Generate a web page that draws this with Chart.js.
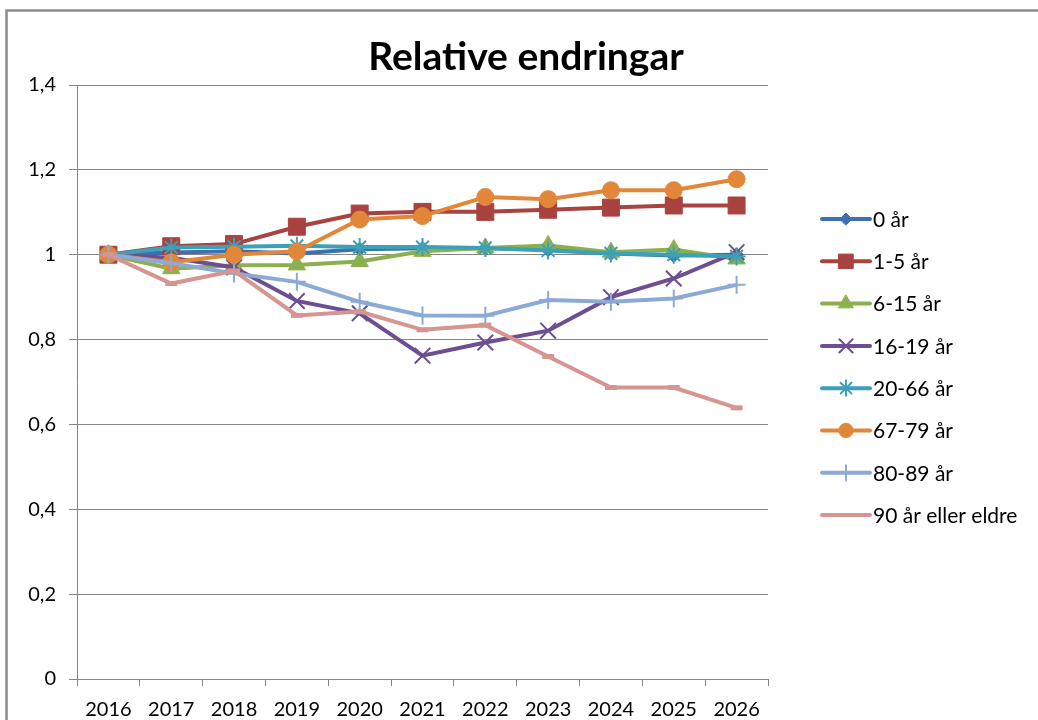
<!DOCTYPE html>
<html>
<head>
<meta charset="utf-8">
<script src="https://cdn.jsdelivr.net/npm/chart.js@4/dist/chart.umd.min.js"></script>
<style>
html,body{margin:0;padding:0;background:#fff;}
#wrap{width:1038px;height:720px;position:relative;}
</style>
</head>
<body>
<div id="wrap"><canvas id="c" width="1038" height="720"></canvas></div>
<script>
const years = ['2016','2017','2018','2019','2020','2021','2022','2023','2024','2025','2026'];
const seriesNames = ['0 år','1-5 år','6-15 år','16-19 år','20-66 år','67-79 år','80-89 år','90 år eller eldre'];
const age0    = [1, 1.005, 1.008, 1.003, 1.013, 1.015, 1.015, 1.012, 1.003, 0.998, 1.0];
const age1_5  = [1, 1.020, 1.025, 1.066, 1.097, 1.101, 1.101, 1.106, 1.111, 1.116, 1.116];
const age6_15 = [1, 0.967, 0.975, 0.976, 0.984, 1.008, 1.016, 1.022, 1.006, 1.012, 0.990];
const age16_19= [1, 0.993, 0.970, 0.891, 0.862, 0.762, 0.793, 0.821, 0.900, 0.944, 1.006];
const age20_66= [1, 1.017, 1.019, 1.021, 1.018, 1.018, 1.016, 1.010, 1.003, 1.000, 0.996];
const age67_79= [1, 0.982, 1.000, 1.008, 1.083, 1.091, 1.136, 1.131, 1.152, 1.152, 1.178];
const age80_89= [1, 0.980, 0.956, 0.936, 0.889, 0.857, 0.856, 0.893, 0.889, 0.897, 0.929];
const age90   = [1, 0.932, 0.962, 0.857, 0.866, 0.823, 0.834, 0.760, 0.687, 0.687, 0.639];
const yTicks = [0, 0.2, 0.4, 0.6, 0.8, 1, 1.2, 1.4];
const chartTitle = 'Relative endringar';

const seriesValues = [age0, age1_5, age6_15, age16_19, age20_66, age67_79, age80_89, age90];
const colors = ['#3E6FAE','#A9433F','#8DB04E','#6C4E93','#3DA0B9','#E2873A','#8CAAD6','#D69591'];
const styles = [
  {ps:'rectRot', r:7, bw:1, fill:true},
  {ps:'rect', r:12, bw:1, fill:true},
  {ps:'triangle', r:10, bw:1, fill:true},
  {ps:'crossRot', r:11, bw:2, fill:false},
  {ps:'star', r:9, bw:2, fill:false},
  {ps:'circle', r:8.5, bw:1, fill:true},
  {ps:'cross', r:9, bw:2, fill:false},
  {ps:'line', r:6, bw:5, fill:false}
];
const FONT = 'Lato, "Open Sans", sans-serif';
const N = seriesNames.length;

const datasets = seriesNames.map((name, i) => ({
  label: name,
  data: seriesValues[i],
  borderColor: colors[i],
  backgroundColor: colors[i],
  borderWidth: 4,
  tension: 0,
  pointStyle: styles[i].ps,
  pointRadius: styles[i].r,
  pointHoverRadius: styles[i].r,
  pointBorderWidth: styles[i].bw,
  pointBackgroundColor: colors[i],
  pointBorderColor: colors[i],
  order: N - 1 - i
}));

const framePlugin = {
  id: 'frame',
  beforeDraw(chart) {
    const ctx = chart.ctx;
    ctx.save();
    ctx.fillStyle = '#fff';
    ctx.fillRect(0, 0, chart.width, chart.height);
    ctx.strokeStyle = '#8c8c8c';
    ctx.lineWidth = 2.5;
    ctx.strokeRect(6.5, 10.5, chart.width + 20, chart.height + 20);
    ctx.restore();
  },
  afterDraw(chart) {
    const ctx = chart.ctx;
    ctx.save();
    ctx.fillStyle = '#000';
    ctx.font = 'bold 39px ' + FONT;
    ctx.textAlign = 'center';
    ctx.textBaseline = 'middle';
    ctx.fillText(chartTitle, 526, 57);
    ctx.restore();
  }
};

const legendPlugin = {
  id: 'customLegend',
  afterDraw(chart) {
    const ctx = chart.ctx;
    ctx.save();
    const x0 = 822, x1 = 870, tx = 873, y0 = 219, dy = 42.3;
    chart.data.datasets.forEach((ds, i) => {
      const y = y0 + i * dy;
      ctx.strokeStyle = ds.borderColor;
      ctx.lineWidth = 4;
      ctx.lineCap = 'round';
      ctx.beginPath();
      ctx.moveTo(x0, y);
      ctx.lineTo(x1, y);
      ctx.stroke();
      const st = styles[i];
      if (st.ps !== 'line') {
        ctx.fillStyle = ds.borderColor;
        ctx.strokeStyle = ds.borderColor;
        ctx.lineWidth = st.bw;
        Chart.helpers.drawPoint(ctx, {pointStyle: st.ps, radius: st.r * 0.85, rotation: 0, borderWidth: st.bw}, (x0 + x1) / 2, y);
      }
      ctx.fillStyle = '#000';
      ctx.font = '21px ' + FONT;
      ctx.textAlign = 'left';
      ctx.textBaseline = 'middle';
      ctx.fillText(ds.label, tx, y + 1);
    });
    ctx.restore();
  }
};

new Chart(document.getElementById('c'), {
  type: 'line',
  data: { labels: years, datasets },
  options: {
    responsive: false,
    animation: false,
    events: [],
    layout: { padding: { left: 0, right: 270, top: 85, bottom: 0 } },
    plugins: {
      legend: { display: false },
      tooltip: { enabled: false },
      title: { display: false }
    },
    scales: {
      x: {
        type: 'category',
        offset: true,
        grid: { offset: true, drawOnChartArea: false, drawTicks: true, tickLength: 7, color: '#868686', lineWidth: 1 },
        border: { color: '#868686', width: 1 },
        ticks: { color: '#000', font: { family: FONT, size: 20 }, padding: 12, maxRotation: 0, autoSkip: false },
        afterFit(scale) { scale.height = 41; }
      },
      y: {
        min: 0, max: 1.4,
        afterBuildTicks(scale) { scale.ticks = yTicks.map(v => ({ value: v })); },
        grid: { color: '#868686', lineWidth: 1, drawTicks: true, tickLength: 8 },
        border: { color: '#868686', width: 1 },
        ticks: {
          color: '#000', font: { family: FONT, size: 20 }, padding: 13,
          callback: v => String(+Number(v).toFixed(1)).replace('.', ',')
        },
        afterFit(scale) { scale.width = 77; }
      }
    }
  },
  plugins: [framePlugin, legendPlugin]
});
</script>
</body>
</html>
